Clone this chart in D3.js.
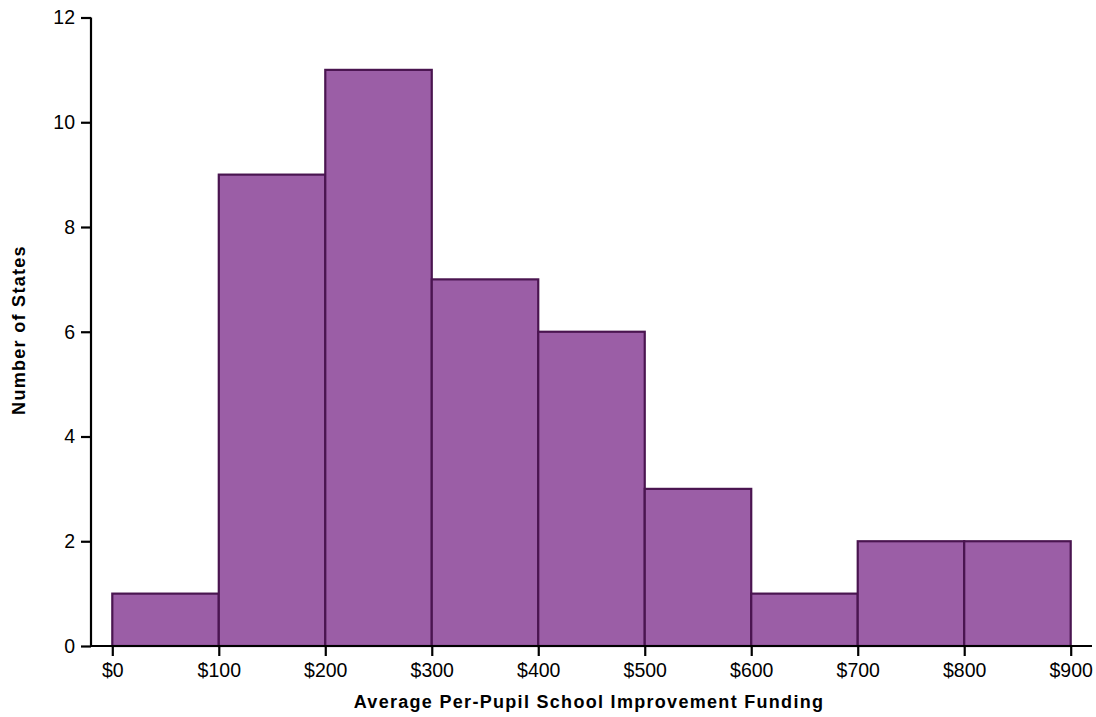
<!DOCTYPE html>
<html><head><meta charset="utf-8">
<script src="https://cdn.jsdelivr.net/npm/d3@7"></script>
<style>body{margin:0;background:#fff;font-family:"Liberation Sans",Arial,sans-serif}</style>
</head><body><svg id="c" width="1096" height="717"></svg>
<script>
const binStarts = [0,100,200,300,400,500,600,700,800];
const binWidth = 100;
const counts = [1,9,11,7,6,3,1,2,2];
const xTicks = [0,100,200,300,400,500,600,700,800,900];
const yTicks = [0,2,4,6,8,10,12];

const svg = d3.select("#c");
const x = d3.scaleLinear().domain([-20,920]).range([91,1092]);
const y = d3.scaleLinear().domain([0,12]).range([646,17.5]);

svg.append("g").selectAll("rect").data(binStarts).join("rect")
  .attr("x", (d)=>x(d)).attr("width", d=>x(d+binWidth)-x(d))
  .attr("y", (d,i)=>y(counts[i])).attr("height",(d,i)=>y(0)-y(counts[i]))
  .attr("fill","#9b5ea6").attr("stroke","#4a1550").attr("stroke-width",2.2);

const xa = svg.append("g").attr("transform",`translate(0,${y(0)})`)
  .call(d3.axisBottom(x).tickValues(xTicks).tickFormat(d=>"$"+d).tickSize(10).tickPadding(7));
const ya = svg.append("g").attr("transform",`translate(${x(-20)},0)`)
  .call(d3.axisLeft(y).tickValues(yTicks).tickSize(10).tickPadding(6));
[xa,ya].forEach(a=>{
  a.selectAll("path").attr("stroke","#000").attr("stroke-width",2.2);
  a.selectAll("line").attr("stroke","#000").attr("stroke-width",2.2);
  a.selectAll("text").attr("fill","#000").style("font-size","19.5px").style("font-family","'Liberation Sans',Arial,sans-serif");
});
xa.select(".domain").attr("d",`M${x(-20)},0H${x(920)}`);
ya.select(".domain").attr("d",`M0,${y(12)}V${y(0)}`);

svg.append("text").attr("x",589).attr("y",708).attr("text-anchor","middle")
  .style("font-size","18px").style("font-weight","bold").style("letter-spacing","1.3px")
  .text("Average Per-Pupil School Improvement Funding");
svg.append("text").attr("transform","translate(25,330) rotate(-90)").attr("text-anchor","middle")
  .style("font-size","18px").style("font-weight","bold").style("letter-spacing","1.3px")
  .text("Number of States");
</script></body></html>
